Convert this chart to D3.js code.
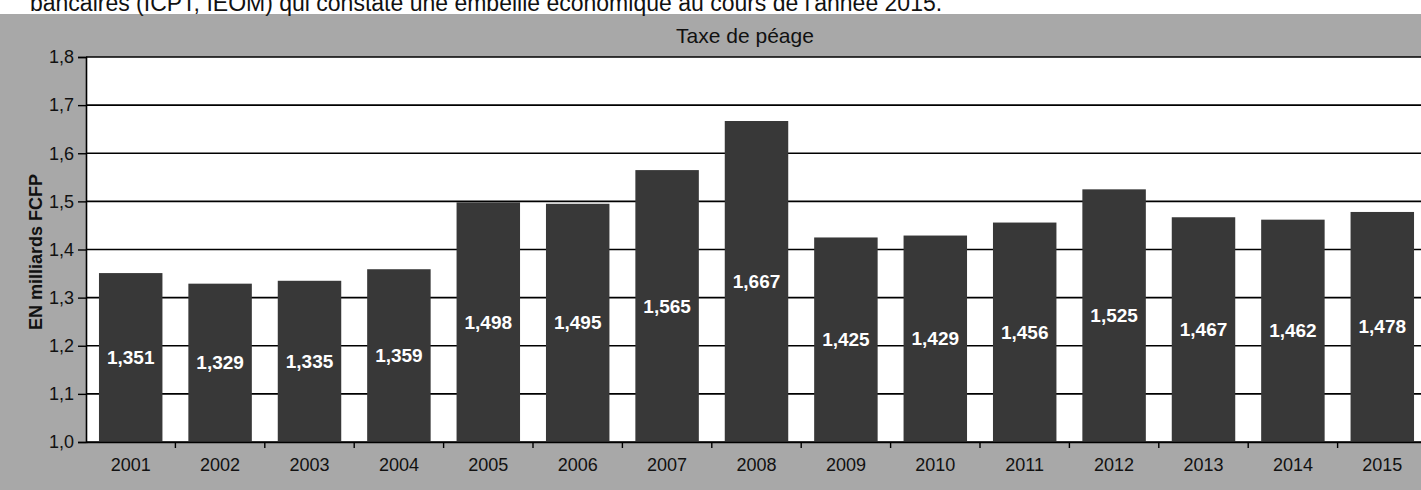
<!DOCTYPE html>
<html><head><meta charset="utf-8">
<script src="https://cdn.jsdelivr.net/npm/d3@7"></script>
<style>
html,body{margin:0;padding:0;background:#fff;}
svg{display:block;font-family:"Liberation Sans",Arial,sans-serif;}
</style></head>
<body>
<svg id="c" width="1421" height="490"></svg>
<script>
const years = ["2001","2002","2003","2004","2005","2006","2007","2008","2009","2010","2011","2012","2013","2014","2015"];
const values = [1.351,1.329,1.335,1.359,1.498,1.495,1.565,1.667,1.425,1.429,1.456,1.525,1.467,1.462,1.478];
const yTicks = [1.0,1.1,1.2,1.3,1.4,1.5,1.6,1.7,1.8];
const title = "Taxe de péage";
const yTitle = "EN milliards FCFP";
const caption = "bancaires (ICPT, IEOM) qui constate une embellie économique au cours de l'année 2015.";

const svg = d3.select("#c");
const W = 1421, H = 490;
const m = {left: 86, right: -6, top: 57};
const fmt = v => d3.format(".3f")(v).replace(".", ",");
const fmt1 = v => d3.format(".1f")(v).replace(".", ",");

// scanned gray background
svg.append("rect").attr("x",0).attr("y",14).attr("width",W).attr("height",H-14).attr("fill","#a8a8a8");
svg.append("text").attr("x",30).attr("y",11).attr("font-size",23).attr("fill","#111").text(caption);

const x = d3.scaleBand().domain(years).range([m.left, W - m.right]).paddingInner(0.29).paddingOuter(0.145);
const y = d3.scaleLinear().domain([1.0, 1.8]).range([442, m.top]);

// plot area
svg.append("rect").attr("x", m.left).attr("y", y(1.8)).attr("width", W - m.left - m.right).attr("height", y(1.0) - y(1.8)).attr("fill","#fff");

// gridlines
svg.append("g").selectAll("line").data(yTicks).join("line")
  .attr("x1", m.left).attr("x2", W).attr("y1", d => y(d)).attr("y2", d => y(d))
  .attr("stroke","#000").attr("stroke-width",1.6);

// bars
svg.append("g").selectAll("rect").data(values).join("rect")
  .attr("x", (d,i) => x(years[i])).attr("width", x.bandwidth())
  .attr("y", d => y(d)).attr("height", d => y(1.0) - y(d))
  .attr("fill","#383838");

// data labels
svg.append("g").selectAll("text").data(values).join("text")
  .attr("x", (d,i) => x(years[i]) + x.bandwidth()/2)
  .attr("y", d => (y(d) + y(1.0))/2)
  .attr("text-anchor","middle").attr("dominant-baseline","central")
  .attr("font-size",19).attr("font-weight","bold").attr("fill","#fff")
  .text(d => fmt(d));

// y axis
const ya = svg.append("g").attr("transform", `translate(${m.left},0)`)
  .call(d3.axisLeft(y).tickValues(yTicks).tickFormat(fmt1).tickSize(8).tickPadding(4));
ya.select(".domain").attr("stroke","#000").attr("stroke-width",1.6);
ya.selectAll(".tick line").attr("stroke","#000").attr("stroke-width",1.4);
ya.selectAll(".tick text").attr("font-size",18).attr("fill","#111").attr("font-family","Liberation Sans, Arial, sans-serif");

// x axis
const xa = svg.append("g").attr("transform", `translate(0,${y(1.0)})`)
  .call(d3.axisBottom(x).tickSize(0).tickPadding(16));
xa.select(".domain").attr("stroke","#000").attr("stroke-width",1.6);
xa.selectAll(".tick text").attr("font-size",18).attr("fill","#111").attr("font-family","Liberation Sans, Arial, sans-serif");
// category separators
const step = x.step();
svg.append("g").selectAll("line").data(years.slice(1)).join("line")
  .attr("x1", d => x(d) - step*0.145).attr("x2", d => x(d) - step*0.145)
  .attr("y1", y(1.0)).attr("y2", y(1.0) + 6)
  .attr("stroke","#000").attr("stroke-width",1.4);

// titles
svg.append("text").attr("x",745).attr("y",35).attr("text-anchor","middle").attr("dominant-baseline","central")
  .attr("font-size",21).attr("fill","#111").text(title);
svg.append("text").attr("transform","translate(36,252) rotate(-90)").attr("text-anchor","middle").attr("dominant-baseline","central")
  .attr("font-size",18).attr("font-weight","bold").attr("fill","#111").text(yTitle);
</script>
</body></html>
